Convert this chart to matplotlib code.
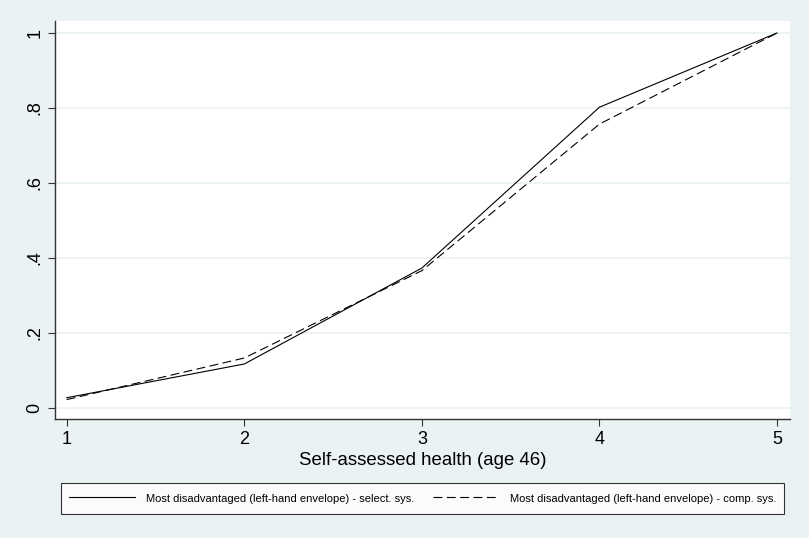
import matplotlib.pyplot as plt

plt.rcParams["font.family"] = ["Liberation Sans", "DejaVu Sans"]

health = [1, 2, 3, 4, 5]
select_sys = [0.027, 0.117, 0.373, 0.802, 1.0]
comp_sys = [0.022, 0.133, 0.366, 0.757, 1.0]

y_ticks = [0, 0.2, 0.4, 0.6, 0.8, 1.0]
y_labels = ["0", ".2", ".4", ".6", ".8", "1"]

bg = "#EAF2F3"

fig = plt.figure(figsize=(8.09, 5.38), dpi=100, facecolor=bg)
ax = fig.add_axes([0.068, 0.221, 0.9085, 0.740])
ax.set_facecolor("white")

ax.plot(health, select_sys, color="black", linewidth=0.8,
        label="Most disadvantaged (left-hand envelope) - select. sys.")
ax.plot(health, comp_sys, color="black", linewidth=0.8, dashes=(8, 4),
        label="Most disadvantaged (left-hand envelope) - comp. sys.")

ax.set_xlim(0.934, 5.073)
ax.set_ylim(-0.03, 1.032)
ax.set_xticks(health)
ax.set_yticks(y_ticks)
ax.set_yticklabels(y_labels, rotation=90, va="center")
ax.grid(axis="y", color=bg, linewidth=1.2)
ax.set_axisbelow(True)

for side in ["top", "right"]:
    ax.spines[side].set_visible(False)
for side in ["left", "bottom"]:
    ax.spines[side].set_color("#333333")
    ax.spines[side].set_linewidth(1.0)
ax.tick_params(axis="both", labelsize=13, length=5, width=0.8, color="#333333")

ax.set_xlabel("Self-assessed health (age 46)", fontsize=13.4, labelpad=3)

leg = fig.legend(loc="lower left", bbox_to_anchor=(0.0754, 0.0446, 0.894, 0.065),
                 mode="expand", ncol=2, fontsize=8, handlelength=5.95,
                 handletextpad=1.0, handleheight=1.7,
                 frameon=True, fancybox=False, edgecolor="black",
                 borderaxespad=0, borderpad=0.72, columnspacing=2)
leg.get_frame().set_linewidth(0.8)

plt.savefig("out.png", dpi=100, facecolor=bg)
plt.close()
